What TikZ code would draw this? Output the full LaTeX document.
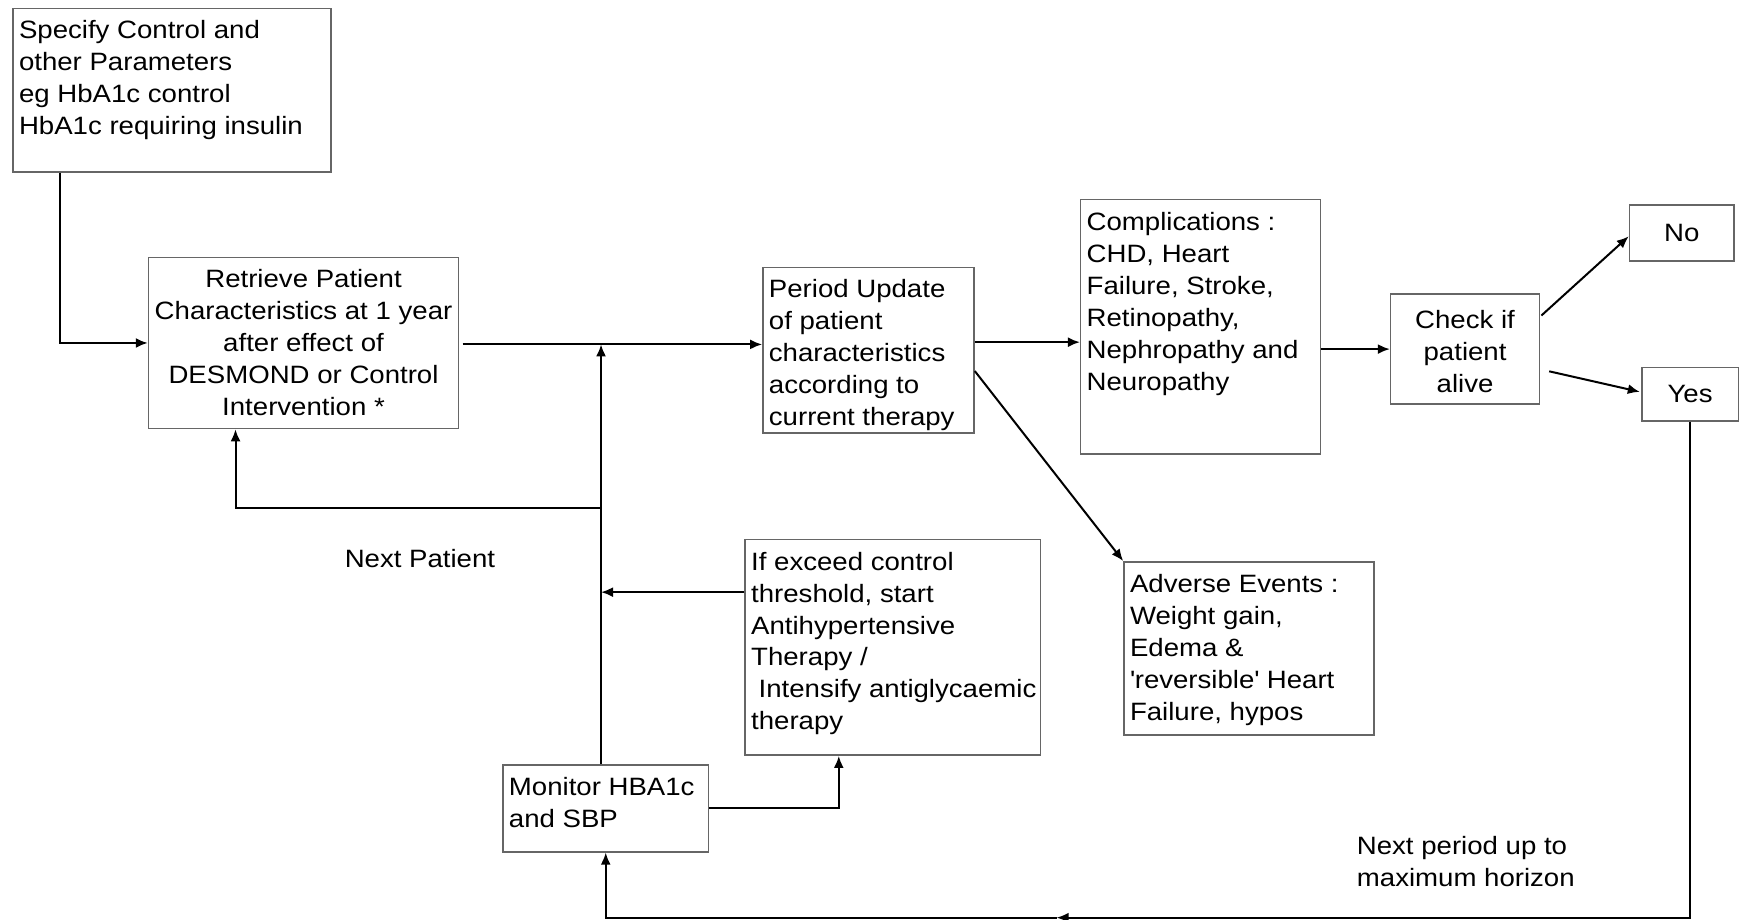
\documentclass[tikz,border=0pt]{standalone}
\usepackage{fontspec}
\setmainfont{Liberation Sans}[FakeStretch=1.1]
\usetikzlibrary{arrows.meta,calc}
\newdimen\pu \pu=0.5556pt
\newdimen\ins \ins=3pt
\newdimen\insy \insy=4pt
\newcommand\bxt[4]{\parbox[c][\dimexpr #2\pu-2\insy\relax][#3]{\dimexpr #1\pu-2\ins\relax}{#4}}
\tikzset{
  txt/.style={font=\fontsize{12.55}{16}\selectfont},
  box/.style={draw=black!60, line width=0.8pt, inner xsep=\ins, inner ysep=\insy, anchor=north west, fill=white, txt},
  arr/.style={line width=1pt, draw=black, -{Latex[length=6pt,width=5pt]}},
  lbl/.style={txt, inner sep=0pt}
}
\begin{document}
\begin{tikzpicture}[x=0.5556pt,y=-0.5556pt]
\useasboundingbox (0,0) rectangle (1568,828);
% boxes
\node[box] (spec) at (11,7) {\bxt{286}{147}{t}{\raggedright\strut Specify Control and\\other Parameters\\eg HbA1c control\\HbA1c requiring insulin}};
\node[box] (ret) at (133,231) {\bxt{279}{154}{t}{\centering\strut Retrieve Patient\\Characteristics at 1 year\\after effect of\\DESMOND or Control\\Intervention *}};
\node[box] (per) at (686,240) {\bxt{190}{149}{t}{\raggedright\strut Period Update\\of patient\\characteristics\\according to\\current therapy}};
\node[box] (comp) at (972,179) {\bxt{216}{229}{t}{\raggedright\strut Complications :\\CHD, Heart\\Failure, Stroke,\\Retinopathy,\\Nephropathy and\\Neuropathy}};
\node[box] (chk) at (1251,264) {\bxt{134}{99}{c}{\centering\strut Check if\\patient\\alive}};
\node[box] (no) at (1466,184) {\bxt{94}{50}{c}{\centering No}};
\node[box] (yes) at (1477,330) {\bxt{87}{48}{c}{\centering Yes}};
\node[box] (adv) at (1011,505) {\bxt{225}{156}{t}{\raggedright\strut Adverse Events :\\Weight gain,\\Edema \&\\\textquotesingle reversible\textquotesingle\ Heart\\Failure, hypos}};
\node[box] (ifb) at (670,485) {\bxt{266}{194}{t}{\raggedright\strut If exceed control\\threshold, start\\Antihypertensive\\Therapy /\\\mbox{\hspace*{0.3em}Intensify antiglycaemic}\\therapy}};
\node[box] (mon) at (452,688) {\bxt{185}{78}{t}{\raggedright\strut Monitor HBA1c\\and SBP}};
% labels
\node[lbl] (np) at (378,503) {Next Patient};
\node[lbl, anchor=north west, align=left] (nph) at (1221,752) {Next period up to\\maximum horizon};
% connectors
\coordinate (hl) at ($(ret.north east)+(3,79)$);
\coordinate (vx) at ($(mon.north west)+(89,0)$);
\draw[arr] ($(spec.south west)+(43,0)$) |- (ret.west);
\draw[arr] (hl) -- (hl -| per.west);
\draw[arr] (vx) -- (vx |- hl);
\draw[arr] ($(vx)+(0,-231)$) -| ($(ret.south west)+(79,0)$);
\draw[arr] ($(ifb.north west)+(0,48)$) -- ($(vx)+(0,-155)$);
\draw[arr] (mon.east) -| ($(ifb.south west)+(85,0)$);
\draw[arr] ($(per.north east)+(0,68)$) -- ($(comp.north west)+(0,129)$);
\draw[arr] (comp.east |- chk.west) -- (chk.west);
\draw[arr] ($(chk.north east)+(1,20)$) -- ($(no.west)+(0,3)$);
\draw[arr] ($(chk.east)+(8,20)$) -- ($(yes.west)+(-1,-2)$);
\draw[arr] ($(per.north east)+(0,94)$) -- (adv.north west);
\coordinate (mid) at (951,826);
\draw[arr] (yes.south) |- (mid);
\draw[arr] (mid) -| (mon.south);
\end{tikzpicture}
\end{document}
